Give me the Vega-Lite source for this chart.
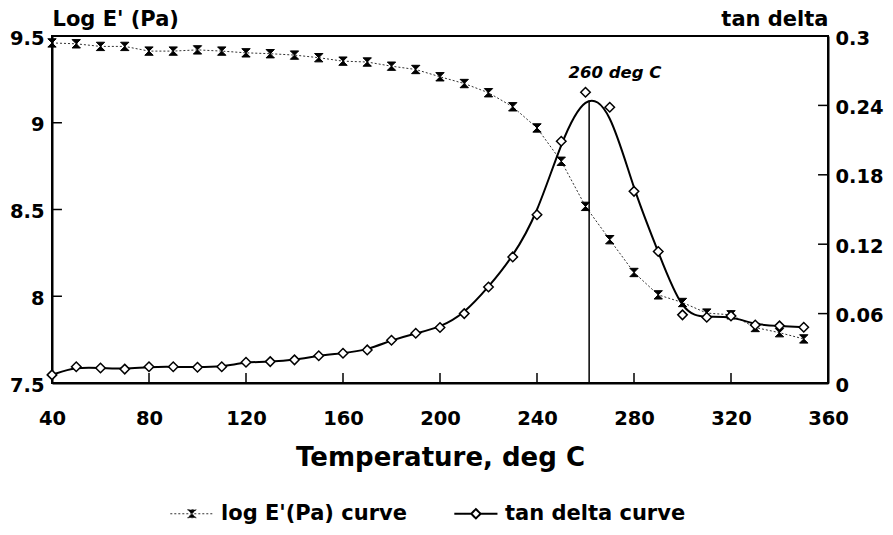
{
  "$schema": "https://vega.github.io/schema/vega-lite/v6.json",
  "width": 776,
  "height": 347,
  "autosize": {"type": "none"},
  "padding": {"left": 52, "top": 36, "right": 65, "bottom": 152},
  "background": "white",
  "config": {
    "view": {"stroke": "black", "strokeWidth": 2},
    "font": "DejaVu Sans",
    "axis": {
      "grid": false,
      "ticks": false,
      "domainColor": "black",
      "domainWidth": 2,
      "labelFont": "DejaVu Sans",
      "labelFontWeight": "bold",
      "labelFontSize": 19.5,
      "labelColor": "black",
      "labelFlush": false,
      "labelOverlap": false,
      "titleFont": "DejaVu Sans",
      "titleFontWeight": "bold",
      "titleColor": "black"
    }
  },
  "datasets": {
    "dma": [
      {"T": 40, "logE": 9.46, "tan": 0.007},
      {"T": 50, "logE": 9.455, "tan": 0.014},
      {"T": 60, "logE": 9.44, "tan": 0.013},
      {"T": 70, "logE": 9.44, "tan": 0.012},
      {"T": 80, "logE": 9.413, "tan": 0.014},
      {"T": 90, "logE": 9.413, "tan": 0.014},
      {"T": 100, "logE": 9.42, "tan": 0.0136},
      {"T": 110, "logE": 9.413, "tan": 0.014},
      {"T": 120, "logE": 9.403, "tan": 0.018},
      {"T": 130, "logE": 9.398, "tan": 0.0185},
      {"T": 140, "logE": 9.39, "tan": 0.02},
      {"T": 150, "logE": 9.375, "tan": 0.0236},
      {"T": 160, "logE": 9.355, "tan": 0.0257},
      {"T": 170, "logE": 9.35, "tan": 0.0286},
      {"T": 180, "logE": 9.326, "tan": 0.037},
      {"T": 190, "logE": 9.307, "tan": 0.043},
      {"T": 200, "logE": 9.265, "tan": 0.048},
      {"T": 210, "logE": 9.226, "tan": 0.06},
      {"T": 220, "logE": 9.173, "tan": 0.083},
      {"T": 230, "logE": 9.092, "tan": 0.109},
      {"T": 240, "logE": 8.97, "tan": 0.1455},
      {"T": 250, "logE": 8.778, "tan": 0.209},
      {"T": 260, "logE": 8.518, "tan": 0.2514},
      {"T": 270, "logE": 8.326, "tan": 0.2384},
      {"T": 280, "logE": 8.137, "tan": 0.1657},
      {"T": 290, "logE": 8.008, "tan": 0.1137},
      {"T": 300, "logE": 7.964, "tan": 0.0589},
      {"T": 310, "logE": 7.903, "tan": 0.0569},
      {"T": 320, "logE": 7.893, "tan": 0.058},
      {"T": 330, "logE": 7.82, "tan": 0.0502},
      {"T": 340, "logE": 7.79, "tan": 0.0494},
      {"T": 350, "logE": 7.754, "tan": 0.0482}
    ],
    "series": [
      {"series": "log E'(Pa) curve"},
      {"series": "tan delta curve"}
    ]
  },
  "layer": [
    {
      "data": {"name": "dma"},
      "encoding": {
        "x": {
          "field": "T", "type": "quantitative",
          "scale": {"domain": [40, 360], "nice": false, "zero": false},
          "axis": {
            "values": [40, 80, 120, 160, 200, 240, 280, 320, 360],
            "labelPadding": 26,
            "title": "Temperature, deg C",
            "titleFontSize": 26,
            "titleBaseline": "alphabetic",
            "titleY": 82
          }
        },
        "y": {
          "field": "logE", "type": "quantitative",
          "scale": {"domain": [7.5, 9.5], "nice": false, "zero": false},
          "axis": {
            "orient": "left",
            "values": [7.5, 8, 8.5, 9, 9.5],
            "format": "~g",
            "labelPadding": 8,
            "labelOffset": 2,
            "title": "Log E' (Pa)",
            "titleFontSize": 21,
            "titleAngle": 0,
            "titleAlign": "left",
            "titleBaseline": "alphabetic",
            "titleX": 0,
            "titleY": -11
          }
        }
      },
      "layer": [
        {
          "transform": [{"filter": {"field": "T", "oneOf": [80, 120, 160, 200, 240, 280, 320]}}],
          "mark": {"type": "rule", "color": "black", "strokeWidth": 1.5},
          "encoding": {
            "y": {"datum": 7.5, "type": "quantitative"},
            "y2": {"datum": 7.5577}
          }
        },
        {
          "transform": [{"filter": "datum.T === 40"}],
          "mark": {"type": "rule", "color": "black", "strokeWidth": 1.5},
          "encoding": {
            "x": {"datum": 40, "type": "quantitative"},
            "x2": {"datum": 44.1},
            "y": {"datum": 8, "type": "quantitative"}
          }
        },
        {
          "transform": [{"filter": "datum.T === 40"}],
          "mark": {"type": "rule", "color": "black", "strokeWidth": 1.5},
          "encoding": {
            "x": {"datum": 40, "type": "quantitative"},
            "x2": {"datum": 44.1},
            "y": {"datum": 8.5, "type": "quantitative"}
          }
        },
        {
          "transform": [{"filter": "datum.T === 40"}],
          "mark": {"type": "rule", "color": "black", "strokeWidth": 1.5},
          "encoding": {
            "x": {"datum": 40, "type": "quantitative"},
            "x2": {"datum": 44.1},
            "y": {"datum": 9, "type": "quantitative"}
          }
        },
        {"mark": {"type": "line", "color": "#333333", "strokeWidth": 1, "strokeDash": [2, 2]}},
        {"mark": {"type": "point", "shape": "M-1,-1L1,-1L-1,1L1,1Z", "filled": true, "fill": "black", "stroke": "black", "strokeWidth": 1, "size": 70, "opacity": 1}}
      ]
    },
    {
      "data": {"name": "dma"},
      "encoding": {
        "x": {"field": "T", "type": "quantitative", "scale": {"domain": [40, 360], "nice": false, "zero": false}},
        "y": {
          "field": "tan", "type": "quantitative",
          "scale": {"domain": [0, 0.3], "nice": false, "zero": false},
          "axis": {
            "orient": "right",
            "values": [0, 0.06, 0.12, 0.18, 0.24, 0.3],
            "format": "~g",
            "labelPadding": 7,
            "labelOffset": 2,
            "title": "tan delta",
            "titleFontSize": 21,
            "titleAngle": 0,
            "titleAlign": "right",
            "titleBaseline": "alphabetic",
            "titleX": 0,
            "titleY": -11
          }
        }
      },
      "layer": [
        {
          "transform": [{"filter": "datum.T === 350"}],
          "mark": {"type": "rule", "color": "black", "strokeWidth": 1.5},
          "encoding": {
            "x": {"datum": 355.9, "type": "quantitative"},
            "x2": {"datum": 360},
            "y": {"datum": 0.06, "type": "quantitative"}
          }
        },
        {
          "transform": [{"filter": "datum.T === 350"}],
          "mark": {"type": "rule", "color": "black", "strokeWidth": 1.5},
          "encoding": {
            "x": {"datum": 355.9, "type": "quantitative"},
            "x2": {"datum": 360},
            "y": {"datum": 0.12, "type": "quantitative"}
          }
        },
        {
          "transform": [{"filter": "datum.T === 350"}],
          "mark": {"type": "rule", "color": "black", "strokeWidth": 1.5},
          "encoding": {
            "x": {"datum": 355.9, "type": "quantitative"},
            "x2": {"datum": 360},
            "y": {"datum": 0.18, "type": "quantitative"}
          }
        },
        {
          "transform": [{"filter": "datum.T === 350"}],
          "mark": {"type": "rule", "color": "black", "strokeWidth": 1.5},
          "encoding": {
            "x": {"datum": 355.9, "type": "quantitative"},
            "x2": {"datum": 360},
            "y": {"datum": 0.24, "type": "quantitative"}
          }
        },
        {"mark": {"type": "line", "interpolate": "basis", "color": "black", "strokeWidth": 2}},
        {"mark": {"type": "point", "shape": "diamond", "filled": false, "fill": "white", "fillOpacity": 1, "stroke": "black", "strokeWidth": 1.5, "size": 90, "opacity": 1}},
        {
          "transform": [{"filter": "datum.T === 260"}],
          "mark": {"type": "rule", "color": "black", "strokeWidth": 1.5},
          "encoding": {
            "x": {"datum": 261.5, "type": "quantitative"},
            "y": {"datum": 0, "type": "quantitative"},
            "y2": {"datum": 0.244}
          }
        },
        {
          "transform": [{"filter": "datum.T === 260"}],
          "mark": {"type": "text", "text": "260 deg C", "align": "left", "baseline": "middle", "font": "DejaVu Sans", "fontSize": 16.5, "fontWeight": "bold", "fontStyle": "italic", "color": "black"},
          "encoding": {
            "x": {"datum": 253, "type": "quantitative"},
            "y": {"datum": 0.268, "type": "quantitative"}
          }
        }
      ]
    },
    {
      "data": {"name": "series"},
      "mark": {"type": "point", "opacity": 0},
      "encoding": {
        "shape": {
          "field": "series", "type": "nominal",
          "scale": {
            "domain": ["log E'(Pa) curve", "tan delta curve"],
            "range": [
              "M-1,0L5,0M1.4,-0.55L2.6,-0.55L1.4,0.55L2.6,0.55Z",
              "M-1,0L1.3,0M2.7,0L5,0M2,-0.65L2.65,0L2,0.65L1.35,0Z"
            ]
          },
          "legend": {
            "title": null,
            "orient": "none",
            "direction": "horizontal",
            "legendX": 115,
            "legendY": 467,
            "symbolSize": 207,
            "symbolOpacity": 1,
            "labelOffset": 33,
            "columnPadding": 43,
            "labelFont": "DejaVu Sans",
            "labelFontWeight": "bold",
            "labelFontSize": 21,
            "labelColor": "black",
            "labelLimit": 400
          }
        },
        "fill": {
          "field": "series", "type": "nominal",
          "scale": {"domain": ["log E'(Pa) curve", "tan delta curve"], "range": ["black", "white"]},
          "legend": {"title": null}
        },
        "stroke": {
          "field": "series", "type": "nominal",
          "scale": {"domain": ["log E'(Pa) curve", "tan delta curve"], "range": ["#333333", "black"]},
          "legend": {"title": null}
        },
        "strokeDash": {
          "field": "series", "type": "nominal",
          "scale": {"domain": ["log E'(Pa) curve", "tan delta curve"], "range": [[2, 2], [1, 0]]},
          "legend": {"title": null}
        },
        "strokeWidth": {
          "field": "series", "type": "nominal",
          "scale": {"domain": ["log E'(Pa) curve", "tan delta curve"], "range": [1, 2]},
          "legend": {"title": null}
        }
      }
    }
  ],
  "resolve": {"scale": {"y": "independent"}}
}
